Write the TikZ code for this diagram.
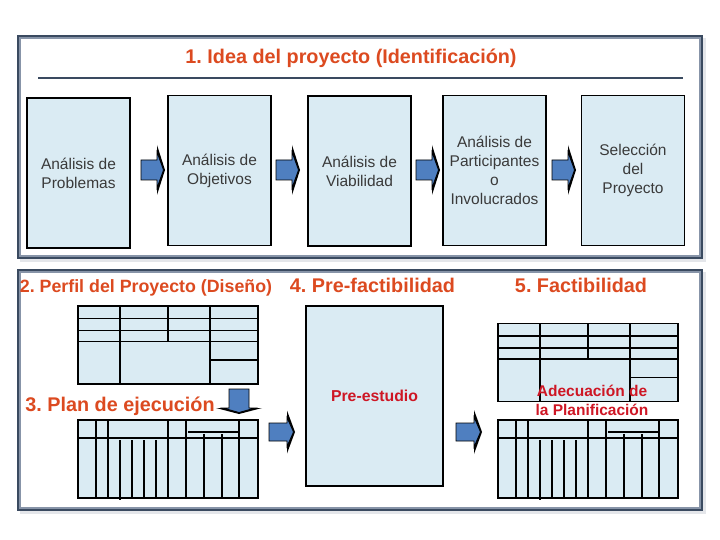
\documentclass[tikz,border=0pt]{standalone}
\usepackage{fontspec}
\setmainfont{Liberation Sans}
\usetikzlibrary{positioning}
\frenchspacing

\definecolor{framedark}{HTML}{3A4A60}
\definecolor{framegray}{HTML}{8794A8}
\definecolor{shadowgray}{HTML}{E4E6EA}
\definecolor{boxblue}{HTML}{DAEBF3}
\definecolor{arrowblue}{HTML}{4F7FC0}
\definecolor{headorange}{HTML}{DC4A20}
\definecolor{labelred}{HTML}{CE1624}
\definecolor{textgray}{HTML}{3A3A3A}

% block arrow: position, rotation, body length, body half width, head half width, head length
\newcommand{\blockarrow}[6]{%
  \begin{scope}[shift={#1}, rotate=#2]
    \fill[black] (#3,-#5) -- (#3+#6,0) -- (#3,#5) -- cycle;
    \filldraw[fill=arrowblue, draw=black, line width=0.8pt]
      (0,-#4) -- (#3,-#4) -- (#3,-#5+7) -- (#3+#6-1.5,0) -- (#3,#5-7) -- (#3,#4) -- (0,#4) -- cycle;
  \end{scope}}

% inner lines of the two kinds of tables
\newcommand{\perfilgrid}{%
  \draw[grid] (0,12.5) -- (180,12.5) (0,24.5) -- (180,24.5) (0,35.5) -- (180,35.5);
  \draw[grid] (42,0) -- (42,78) (132,0) -- (132,78) (90,0) -- (90,35.5);
  \draw[grid] (132,54) -- (180,54);}
\newcommand{\plangrid}{%
  \draw[grid] (0,18) -- (180,18);
  \foreach \x in {18,30,90,108,161} \draw[grid] (\x,0) -- (\x,78);
  \draw[grid] (42,20) -- (42,80);
  \foreach \x in {54,66,78} \draw[grid] (\x,20) -- (\x,78);
  \foreach \x in {126,144} \draw[grid] (\x,14) -- (\x,78);
  \draw[grid] (110,12) -- (161,12);}

\begin{document}
\begin{tikzpicture}[x=1pt, y=-1pt,
        frame/.style={draw=framedark, line width=2pt},
        frameinner/.style={draw=framegray, line width=2pt},
        ideabox/.style={draw, line width=1.6pt, fill=boxblue, minimum width=103, minimum height=150,
            align=center, text=textgray, font=\fontsize{15.5}{19}\selectfont, inner sep=0pt},
        tablebox/.style={draw, line width=1.6pt, fill=boxblue, minimum width=180, minimum height=78,
            inner sep=0pt, outer sep=0pt},
        grid/.style={line width=1.6pt},
        heading/.style={text=headorange, font=\bfseries\fontsize{19.8}{24}\selectfont, anchor=base, inner sep=0pt},
        redlabel/.style={text=labelred, font=\bfseries\fontsize{15.5}{19}\selectfont, align=center, inner sep=0pt}
    ]
    \useasboundingbox (0,0) rectangle (720,540);
    % Frames
    \fill[shadowgray] (20,38) rectangle (706,262);
    \filldraw[fill=white, frame] (18,36) rectangle (702,258);
    \draw[frameinner] (20,38) rectangle (700,256);
    \fill[shadowgray] (20,272) rectangle (706,514);
    \filldraw[fill=white, frame] (18,270) rectangle (702,510);
    \draw[frameinner] (20,272) rectangle (700,508);
    % Identification row
    \node[heading] (idea) at (351,64) {1. Idea del proyecto (Identificación)};
    \draw[framedark, line width=1.5pt] (38,78) -- (683,78);
    \node[ideabox] (problemas) at (78.5,173) {Análisis de\\Problemas};
    \node[ideabox] (objetivos) at (219.5,170.5) {Análisis de\\Objetivos};
    \node[ideabox] (viabilidad) at (359.5,171) {Análisis de\\Viabilidad};
    \node[ideabox] (participantes) at (494.5,170.5) {Análisis de\\Participantes\\o\\Involucrados};
    \node[ideabox] (seleccion) at (633,170.5) {Selección\\del\\Proyecto};
    \blockarrow{(141,170)}{0}{16}{10}{25}{8}
    \blockarrow{(276,170)}{0}{16}{10}{25}{8}
    \blockarrow{(416,170)}{0}{16}{10}{25}{8}
    \blockarrow{(552,170)}{0}{16}{10}{25}{8}
    % Design, plan, pre-feasibility, feasibility
    \node[heading, font=\bfseries\fontsize{17.8}{22}\selectfont] (perfiltitle) at (146,292) {2. Perfil del Proyecto (Diseño)};
    \node[heading] (prefact) at (372.5,292) {4. Pre-factibilidad};
    \node[heading] (fact) at (581,292) {5. Factibilidad};
    \node[heading] (plantitle) at (120,411) {3. Plan de ejecución};
    \node[tablebox] (perfil) at (168,345) {};
    \begin{scope}[shift={(perfil.north west)}] \perfilgrid \end{scope}
    \node[tablebox] (plan) at (168,459) {};
    \begin{scope}[shift={(plan.north west)}] \plangrid \end{scope}
    \node[tablebox] (factib) at (588,362.5) {};
    \begin{scope}[shift={(factib.north west)}] \perfilgrid \end{scope}
    \node[tablebox] (adecuacion) at (588,459) {};
    \begin{scope}[shift={(adecuacion.north west)}] \plangrid \end{scope}
    \node[draw, line width=1.6pt, fill=boxblue, minimum width=137, minimum height=180, text=labelred,
        font=\bfseries\fontsize{15.8}{19}\selectfont] (preestudio) at (374.5,396) {Pre-estudio};
    \node[redlabel] (adecuaciontext) at (592,400) {Adecuación de\\la Planificación};
    \blockarrow{(239,389)}{-90}{19}{10}{23}{6}
    \blockarrow{(269,432)}{0}{18}{9}{21.5}{8}
    \blockarrow{(456,432)}{0}{18}{9}{22}{8}
\end{tikzpicture}
\end{document}
